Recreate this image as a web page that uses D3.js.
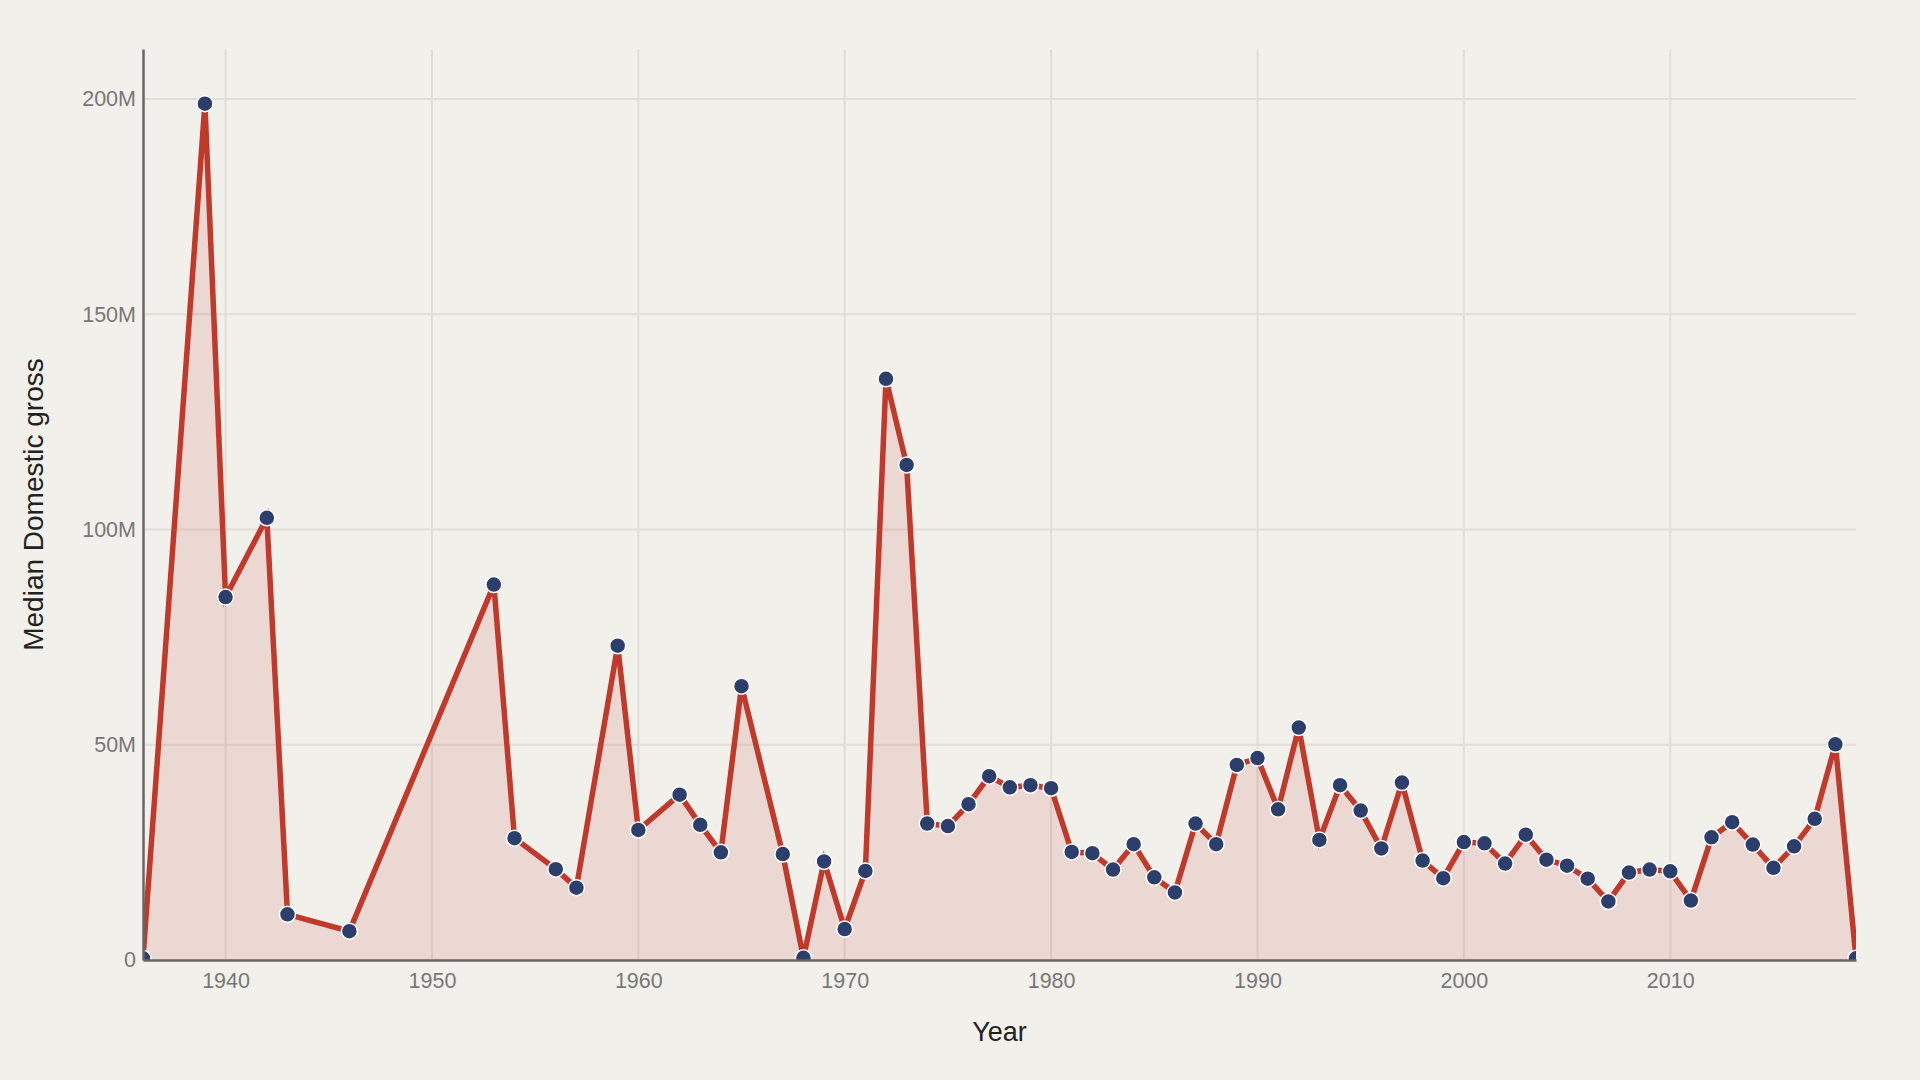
<!DOCTYPE html>
<html>
<head>
<meta charset="utf-8">
<script src="https://cdn.jsdelivr.net/npm/d3@7"></script>
<style>
  html, body { margin: 0; padding: 0; background: #f2f0eb; }
  svg { display: block; }
  text { font-family: "Liberation Sans", Arial, sans-serif; }
</style>
</head>
<body>
<svg id="chart" width="1920" height="1080"></svg>
<script>
const years = [1936, 1939, 1940, 1942, 1943, 1946, 1953, 1954, 1956, 1957, 1959, 1960,
  1962, 1963, 1964, 1965, 1967, 1968, 1969, 1970, 1971, 1972, 1973, 1974, 1975, 1976,
  1977, 1978, 1979, 1980, 1981, 1982, 1983, 1984, 1985, 1986, 1987, 1988, 1989, 1990,
  1991, 1992, 1993, 1994, 1995, 1996, 1997, 1998, 1999, 2000, 2001, 2002, 2003, 2004,
  2005, 2006, 2007, 2008, 2009, 2010, 2011, 2012, 2013, 2014, 2015, 2016, 2017, 2018, 2019];
const medianGrossM = [0.4, 198.9, 84.3, 102.7, 10.6, 6.7, 87.2, 28.3, 21.1, 16.8, 73.0, 30.2,
  38.4, 31.4, 25.0, 63.6, 24.6, 0.5, 22.9, 7.2, 20.7, 135.0, 115.0, 31.7, 31.1, 36.2,
  42.7, 40.1, 40.6, 39.9, 25.1, 24.8, 21.0, 26.9, 19.2, 15.7, 31.7, 26.9, 45.3, 46.9,
  35.0, 54.0, 27.9, 40.6, 34.7, 25.9, 41.2, 23.1, 19.0, 27.4, 27.1, 22.4, 29.1, 23.3,
  21.9, 18.9, 13.6, 20.3, 21.0, 20.6, 13.8, 28.5, 32.0, 26.8, 21.4, 26.4, 32.8, 50.1, 0.4];
const xTicks = [1940, 1950, 1960, 1970, 1980, 1990, 2000, 2010];
const yTicks = [0, 50e6, 100e6, 150e6, 200e6];
const yTickLabels = ["0", "50M", "100M", "150M", "200M"];
const xDomain = [1936, 2019];
const yDomain = [0, 211.6e6];
const xTitle = "Year";
const yTitle = "Median Domestic gross";

const data = years.map((y, i) => ({ year: y, value: medianGrossM[i] * 1e6 }));

const W = 1920, H = 1080;
const m = { left: 143, right: 64, top: 49, bottom: 120 };
const iw = W - m.left - m.right, ih = H - m.top - m.bottom;

const svg = d3.select("#chart");
svg.append("rect").attr("width", W).attr("height", H).attr("fill", "#f2f0eb");

const x = d3.scaleLinear().domain(xDomain).range([0, iw]);
const y = d3.scaleLinear().domain(yDomain).range([ih, 0]);

const g = svg.append("g").attr("transform", `translate(${m.left},${m.top})`);

svg.append("defs").append("clipPath").attr("id", "clip")
  .append("rect").attr("x", 0).attr("y", 0).attr("width", iw).attr("height", ih);

// grid
g.append("g").selectAll("line").data(xTicks).join("line")
  .attr("x1", d => x(d)).attr("x2", d => x(d))
  .attr("y1", 0).attr("y2", ih)
  .attr("stroke", "#e1ded8").attr("stroke-width", 2);
g.append("g").selectAll("line").data(yTicks.filter(d => d > 0)).join("line")
  .attr("x1", 0).attr("x2", iw)
  .attr("y1", d => y(d)).attr("y2", d => y(d))
  .attr("stroke", "#e1ded8").attr("stroke-width", 2);

const plot = g.append("g").attr("clip-path", "url(#clip)");

const area = d3.area().x(d => x(d.year)).y0(y(0)).y1(d => y(d.value));
const line = d3.line().x(d => x(d.year)).y(d => y(d.value));

plot.append("path").datum(data).attr("d", area)
  .attr("fill", "#c0392b").attr("fill-opacity", 0.13);
plot.append("path").datum(data).attr("d", line)
  .attr("fill", "none").attr("stroke", "#c0392b").attr("stroke-width", 5.5)
  .attr("stroke-linejoin", "miter").attr("stroke-miterlimit", 4);
plot.append("g").selectAll("circle").data(data).join("circle")
  .attr("cx", d => x(d.year)).attr("cy", d => y(d.value)).attr("r", 8)
  .attr("fill", "#2c3e6b").attr("stroke", "#ffffff").attr("stroke-width", 1.5);

// axes
const xAxis = d3.axisBottom(x).tickValues(xTicks).tickFormat(d3.format("d"))
  .tickSize(0).tickPadding(13);
const yAxis = d3.axisLeft(y).tickValues(yTicks)
  .tickFormat((d, i) => yTickLabels[i]).tickSize(0).tickPadding(7);

const gx = g.append("g").attr("transform", `translate(0,${ih})`).call(xAxis);
const gy = g.append("g").call(yAxis);
[gx, gy].forEach(a => {
  a.select(".domain").attr("stroke", "#666").attr("stroke-width", 2.5);
  a.selectAll("text").attr("fill", "#777").attr("font-size", 21.5)
    .attr("font-family", "'Liberation Sans', Arial, sans-serif");
});

svg.append("text").attr("x", m.left + iw / 2).attr("y", 1041)
  .attr("text-anchor", "middle").attr("font-size", 27).attr("fill", "#222")
  .text(xTitle);
svg.append("text")
  .attr("transform", `translate(43,${m.top + ih / 2}) rotate(-90)`)
  .attr("text-anchor", "middle").attr("font-size", 28).attr("fill", "#222")
  .text(yTitle);
</script>
</body>
</html>
